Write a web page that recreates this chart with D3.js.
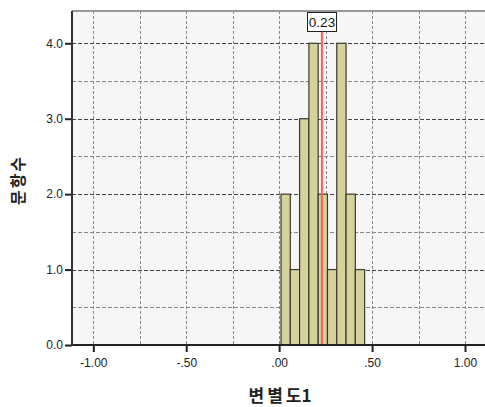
<!DOCTYPE html>
<html><head><meta charset="utf-8">
<script src="https://cdn.jsdelivr.net/npm/d3@7"></script>
<style>body{margin:0;background:#fff}svg{display:block}</style>
</head><body>
<svg id="c" width="485" height="407"></svg>
<script>
const binStarts = [0.01,0.06,0.11,0.16,0.21,0.26,0.31,0.36,0.41];
const binWidth = 0.05;
const counts = [2,1,3,4,2,1,4,2,1];
const meanValue = 0.23;
const xTicks = [-1.0,-0.5,0.0,0.5,1.0];
const xTickLabels = ["-1.00","-.50",".00",".50","1.00"];
const xMinorGrid = [-1.0,-0.75,-0.5,-0.25,0.0,0.25,0.5,0.75,1.0];
const yTicks = [0,1,2,3,4];
const yTickLabels = ["0.0","1.0","2.0","3.0","4.0"];
const yMinorGrid = [0.5,1.5,2.5,3.5];
const xTitle = "변별도1";
const yTitle = "문항수";

const svg = d3.select("#c");
const L=72, R=485, T=11, B=345;
const x = d3.scaleLinear().domain([-1,1]).range([93.3,465]);
const y = d3.scaleLinear().domain([0,4]).range([345,43.3]);

svg.append("rect").attr("x",L).attr("y",T).attr("width",R-L).attr("height",B-T).attr("fill","#f6f6f6");

// vertical grid
svg.selectAll(".vg").data(xMinorGrid).enter().append("line")
  .attr("x1",d=>Math.round(x(d))+0.5).attr("x2",d=>Math.round(x(d))+0.5).attr("y1",T).attr("y2",B)
  .attr("stroke","#8a8a8a").attr("stroke-width",1).attr("stroke-dasharray","3,2");
// horizontal minor
svg.selectAll(".hm").data(yMinorGrid).enter().append("line")
  .attr("x1",L).attr("x2",R).attr("y1",d=>Math.round(y(d))+0.5).attr("y2",d=>Math.round(y(d))+0.5)
  .attr("stroke","#888").attr("stroke-width",1).attr("stroke-dasharray","4,2");
// horizontal major
svg.selectAll(".hM").data(yTicks.filter(d=>d>0)).enter().append("line")
  .attr("x1",L).attr("x2",R).attr("y1",d=>Math.round(y(d))+0.5).attr("y2",d=>Math.round(y(d))+0.5)
  .attr("stroke","#444").attr("stroke-width",1).attr("stroke-dasharray","4,2");

// bars
svg.selectAll(".bar").data(counts).enter().append("rect")
  .attr("x",(d,i)=>x(binStarts[i]))
  .attr("width",(d,i)=>x(binStarts[i]+binWidth)-x(binStarts[i]))
  .attr("y",d=>y(d)).attr("height",d=>y(0)-y(d))
  .attr("fill","#d5d29c").attr("stroke","#3a3a30").attr("stroke-width",1.2);

// mean line
svg.append("line").attr("x1",x(meanValue)).attr("x2",x(meanValue)).attr("y1",T+20).attr("y2",B)
  .attr("stroke","#ff5c5c").attr("stroke-width",2);
const lbl = svg.append("g");
lbl.append("rect").attr("x",307.5).attr("y",12.5).attr("width",29).attr("height",19)
  .attr("fill","#fff").attr("stroke","#222").attr("stroke-width",1);
lbl.append("text").attr("x",322).attr("y",27).attr("text-anchor","middle")
  .attr("font-family","Arial, 'Liberation Sans', sans-serif").attr("font-size",13.5).attr("fill","#111").text(meanValue.toFixed(2));

// top border
svg.append("line").attr("x1",L).attr("x2",R).attr("y1",T).attr("y2",T).attr("stroke","#999").attr("stroke-width",2);

// axes
const xa = svg.append("g").attr("transform",`translate(0,${B})`)
  .call(d3.axisBottom(x).tickValues(xTicks).tickFormat((d,i)=>xTickLabels[i]).tickSize(7).tickSizeOuter(0));
const ya = svg.append("g").attr("transform",`translate(${L},0)`)
  .call(d3.axisLeft(y).tickValues(yTicks).tickFormat((d,i)=>yTickLabels[i]).tickSize(7).tickSizeOuter(0));
[xa,ya].forEach(a=>{
  a.select(".domain").remove();
  a.selectAll("line").attr("stroke","#222").attr("stroke-width",2);
  a.selectAll("text").attr("font-family","Arial, 'Liberation Sans', sans-serif").attr("font-size",12).attr("fill","#222");
});
xa.selectAll("text").attr("dy","0.71em").attr("y",13);
ya.selectAll("text").attr("x",-9);
svg.append("line").attr("x1",L).attr("x2",R).attr("y1",B).attr("y2",B).attr("stroke","#222").attr("stroke-width",2);
svg.append("line").attr("x1",L).attr("x2",L).attr("y1",T).attr("y2",B+1).attr("stroke","#333").attr("stroke-width",2);

// titles
const xt = svg.append("text").attr("x",280).attr("y",402).attr("text-anchor","middle")
  .attr("font-family","'Noto Sans CJK KR', sans-serif").attr("font-weight","bold").attr("font-size",17)
  .attr("fill","#222");
const chars = Array.from(xTitle);
chars.forEach((c,i)=>{
  xt.append("tspan").attr("dx", i===0?0:(/\d/.test(c)?0:3)).text(c);
});
svg.append("text").attr("transform","translate(24,180) rotate(-90)").attr("text-anchor","middle")
  .attr("font-family","'Noto Sans CJK KR', sans-serif").attr("font-weight","bold").attr("font-size",16)
  .attr("letter-spacing",2).attr("fill","#222").text(yTitle);
</script>
</body></html>
